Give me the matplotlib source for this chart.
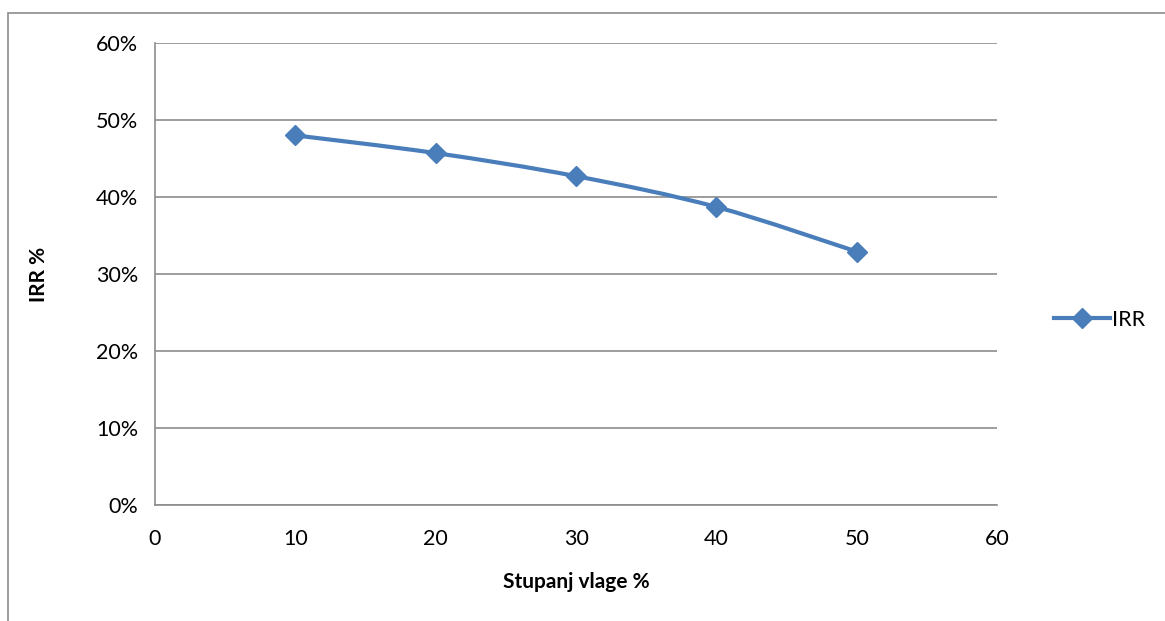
import matplotlib
matplotlib.use("Agg")
import matplotlib.pyplot as plt
from matplotlib.path import Path
from matplotlib.patches import PathPatch, Rectangle
from matplotlib.lines import Line2D
from matplotlib.ticker import FuncFormatter

# data
vlaga = [10, 20, 30, 40, 50]
irr = [0.48, 0.457, 0.427, 0.387, 0.329]

blue = "#4a7ebb"
grey = "#8c8c8c"

plt.rcParams["font.family"] = ["Lato", "DejaVu Sans"]

fig = plt.figure(figsize=(11.65, 6.21), dpi=100)
ax = fig.add_axes([0.133, 0.1868, 0.723, 0.744])

# outer chart border (Excel chart area)
fig.patches.append(Rectangle((8 / 1165, -0.1), 1.2, 1 - 13 / 621 + 0.1,
                             transform=fig.transFigure, fill=False,
                             edgecolor=grey, linewidth=1.2))

# smoothed line like Excel (Catmull-Rom -> cubic bezier)
pts = list(zip(vlaga, irr))
verts = [pts[0]]
codes = [Path.MOVETO]
for i in range(len(pts) - 1):
    p0 = pts[i - 1] if i > 0 else pts[i]
    p1 = pts[i]
    p2 = pts[i + 1]
    p3 = pts[i + 2] if i + 2 < len(pts) else pts[i + 1]
    c1 = (p1[0] + (p2[0] - p0[0]) / 6, p1[1] + (p2[1] - p0[1]) / 6)
    c2 = (p2[0] - (p3[0] - p1[0]) / 6, p2[1] - (p3[1] - p1[1]) / 6)
    verts += [c1, c2, p2]
    codes += [Path.CURVE4] * 3
ax.add_patch(PathPatch(Path(verts, codes), facecolor="none", edgecolor=blue,
                       linewidth=3, capstyle="round", zorder=3))
ax.plot(vlaga, irr, linestyle="none", marker="D", markersize=10,
        color=blue, zorder=4)

ax.set_xlim(0, 60)
ax.set_ylim(0, 0.6)
ax.set_xticks(range(0, 61, 10))
ax.set_yticks([i / 10 for i in range(7)])
ax.yaxis.set_major_formatter(FuncFormatter(lambda v, p: f"{v * 100:.0f}%"))
ax.grid(axis="y", color=grey, linewidth=1.2)
ax.set_axisbelow(True)
for s in ["top", "right"]:
    ax.spines[s].set_visible(False)
for s in ["left", "bottom"]:
    ax.spines[s].set_color(grey)
    ax.spines[s].set_linewidth(1.2)
ax.tick_params(length=0, labelsize=15.5, pad=12)
ax.tick_params(axis="x", pad=17)

ax.set_xlabel("Stupanj vlage %", fontsize=15, fontweight="bold", labelpad=17)
ax.set_ylabel("IRR %", fontsize=15, fontweight="bold", labelpad=34)

handle = Line2D([], [], color=blue, linewidth=3, marker="D", markersize=10)
fig.legend([handle], ["IRR"], loc="center left", bbox_to_anchor=(0.888, 0.485),
           frameon=False, fontsize=15.5, handlelength=2.6, handletextpad=0.1)

fig.savefig("out.png", dpi=100)
